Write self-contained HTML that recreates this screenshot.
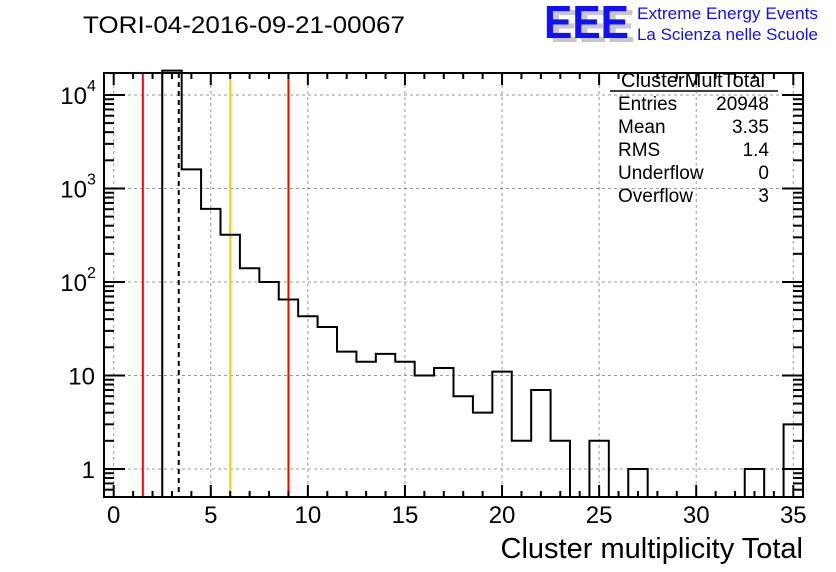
<!DOCTYPE html>
<html><head><meta charset="utf-8"><style>
body{margin:0;background:#fff}
svg{display:block;font-family:"Liberation Sans",sans-serif}
</style></head><body>
<svg id="c" width="836" height="572">
<g id="grid"></g>
<g id="lines"></g>
<path id="hist" fill="none" stroke="#000" stroke-width="2"/>
<rect x="104" y="73" width="699" height="424" fill="none" stroke="#000" stroke-width="2"/>
<g id="axes"></g>
<text x="83" y="33" font-size="24" textLength="322" lengthAdjust="spacingAndGlyphs">TORI-04-2016-09-21-00067</text>
<text x="803" y="558" font-size="29" text-anchor="end">Cluster multiplicity Total</text>
<g>
<text x="550" y="42" font-size="46" font-weight="bold" fill="#c8c8c8" textLength="85" lengthAdjust="spacingAndGlyphs">EEE</text>
<text x="544" y="38" font-size="46" font-weight="bold" fill="#1010ff" textLength="85" lengthAdjust="spacingAndGlyphs">EEE</text>
<text x="637" y="19" font-size="17" fill="#1010ff" textLength="181" lengthAdjust="spacingAndGlyphs">Extreme Energy Events</text>
<text x="637" y="40" font-size="17" fill="#1010ff" textLength="181" lengthAdjust="spacingAndGlyphs">La Scienza nelle Scuole</text>
</g>
<g font-size="19">
<text x="693" y="87" text-anchor="middle" font-size="20" textLength="144" lengthAdjust="spacingAndGlyphs">ClusterMultTotal</text>
<line x1="610" y1="91" x2="778" y2="91" stroke="#000" stroke-width="1.5"/>
<text x="618" y="110">Entries</text><text x="769" y="110" text-anchor="end">20948</text>
<text x="618" y="133">Mean</text><text x="769" y="133" text-anchor="end">3.35</text>
<text x="618" y="156">RMS</text><text x="769" y="156" text-anchor="end">1.4</text>
<text x="618" y="179">Underflow</text><text x="769" y="179" text-anchor="end">0</text>
<text x="618" y="202">Overflow</text><text x="769" y="202" text-anchor="end">3</text>
</g>
</svg>
<script>
const binCenters=[0,1,2,3,4,5,6,7,8,9,10,11,12,13,14,15,16,17,18,19,20,21,22,23,24,25,26,27,28,29,30,31,32,33,34,35];
const counts=[0,0,0,18200,1600,605,320,140,100,65,43,33,18,14,17,14,10,12,6,4,11,2,7,2,0,2,0,1,0,0,0,0,0,1,0,3];
const xTicks=[0,5,10,15,20,25,30,35];
const yDecades=[0,1,2,3,4];
const yLabels=["1","10","10","10","10"];
const ySup=["","","2","3","4"];
const markers=[{v:1.5,c:"#ff0000",d:""},{v:2.5,c:"#ffcc00",d:""},{v:3.35,c:"#000",d:"5,4"},{v:6,c:"#ffcc00",d:""},{v:9,c:"#ff0000",d:""}];
const L=104,R=803,T=73,B=497,xmin=-0.5,xmax=35.5,lmin=-0.3,lmax=4.235;
const X=v=>L+(v-xmin)/(xmax-xmin)*(R-L);
const Y=v=>B-(Math.log10(v)-lmin)/(lmax-lmin)*(B-T);
const NS="http://www.w3.org/2000/svg";
function mk(p,t,a){const e=document.createElementNS(NS,t);for(const k in a)e.setAttribute(k,a[k]);document.getElementById(p).appendChild(e);return e;}
xTicks.forEach(t=>{const e=mk("grid","line",{x1:X(t),x2:X(t),y1:T,y2:B,stroke:"#999","stroke-dasharray":"3,3"});

});
yDecades.forEach(d=>{const e=mk("grid","line",{x1:L,x2:R,y1:Y(Math.pow(10,d)),y2:Y(Math.pow(10,d)),stroke:"#999","stroke-dasharray":"3,3"});

});
markers.forEach(m=>{const a={x1:X(m.v),x2:X(m.v),y1:T,y2:B,stroke:m.c,"stroke-width":2};if(m.d)a["stroke-dasharray"]=m.d;const e=mk("lines","line",a);

});
let d="",prev=null;const floor=B;
binCenters.forEach((c,i)=>{const y=counts[i]>0?Y(counts[i]):floor;const x0=X(c-0.5),x1=X(c+0.5);
if(prev===null)d+=`M${x0},${y}`;else d+=`L${x0},${y}`;d+=`L${x1},${y}`;prev=y;});
document.getElementById("hist").setAttribute("d",d);
for(let v=0;v<=35;v++){const maj=v%5==0,len=maj?12:6;
const e=mk("axes","line",{x1:X(v),x2:X(v),y1:B,y2:B-len,stroke:"#000","stroke-width":2});
const f=mk("axes","line",{x1:X(v),x2:X(v),y1:T,y2:T+len,stroke:"#000","stroke-width":2});}
xTicks.forEach(t=>{const e=mk("axes","text",{x:X(t),y:523,"font-size":24,"text-anchor":"middle"});e.textContent=t;

});
for(let d0=-1;d0<=4;d0++)for(let k=1;k<=9;k++){const v=k*Math.pow(10,d0),y=Y(v);if(y<T||y>B)continue;const len=k==1?21:10;
const e=mk("axes","line",{x1:L,x2:L+len,y1:y,y2:y,stroke:"#000","stroke-width":2});
const f=mk("axes","line",{x1:R,x2:R-len,y1:y,y2:y,stroke:"#000","stroke-width":2});}
yDecades.forEach((dd,i)=>{const y=Y(Math.pow(10,dd));const e=mk("axes","text",{x:ySup[i]?87:95,y:y+9,"font-size":24,"text-anchor":"end"});e.textContent=yLabels[i];


if(ySup[i]){const s=mk("axes","text",{x:87,y:y-4,"font-size":16});s.textContent=ySup[i];

}});
</script>
</body></html>
